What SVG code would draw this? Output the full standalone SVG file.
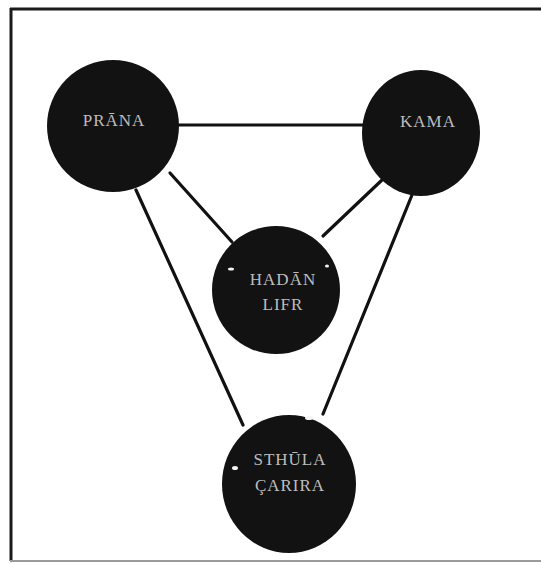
<svg xmlns="http://www.w3.org/2000/svg" width="541" height="563" viewBox="0 0 541 563">
  <style>
    .frame { stroke: #1a1a1a; stroke-width: 3; fill: none; }
    .edge { stroke: #111; stroke-width: 3.2; stroke-linecap: round; fill: none; }
    .node { fill: #121212; }
    .label { fill: #bdbdbd; font-family: "Liberation Serif", "DejaVu Serif", serif; font-size: 17px; text-anchor: middle; letter-spacing: 1px; }
    .fleck { fill: #f4f4f4; }
  </style>
  <rect width="541" height="563" fill="#ffffff"/>
  <!-- page frame -->
  <g id="frame">
    <line class="frame" x1="10" y1="9" x2="541" y2="9"/>
    <line class="frame" x1="11" y1="8" x2="11" y2="561"/>
    <line x1="10" y1="561" x2="541" y2="561" stroke="#9a9a9a" stroke-width="2"/>
  </g>
  <!-- connectors -->
  <g id="connectors">
    <line class="edge" x1="170" y1="125" x2="366" y2="125"/>
    <line class="edge" x1="170" y1="173" x2="232" y2="242"/>
    <line class="edge" x1="382" y1="180" x2="323" y2="236"/>
    <line class="edge" x1="136" y1="190" x2="243" y2="425"/>
    <line class="edge" x1="412" y1="195" x2="323" y2="414"/>
  </g>
  <g id="prana">
    <circle class="node" cx="113" cy="126" r="66"/>
    <text class="label" x="114" y="126">PRĀNA</text>
  </g>
  <g id="kama">
    <ellipse class="node" cx="421" cy="133" rx="59" ry="63"/>
    <text class="label" x="428" y="127">KAMA</text>
  </g>
  <g id="hadan-lifr">
    <circle class="node" cx="276" cy="290" r="64"/>
    <text class="label" x="283" y="285">HADĀN</text>
    <text class="label" x="283" y="310">LIFR</text>
    <ellipse class="fleck" cx="231" cy="269" rx="3" ry="1.5"/>
    <ellipse class="fleck" cx="327" cy="266" rx="2" ry="1.5"/>
  </g>
  <g id="sthula-carira">
    <ellipse class="node" cx="289" cy="484" rx="67" ry="69"/>
    <text class="label" x="290" y="465">STHŪLA</text>
    <text class="label" x="290" y="491">ÇARIRA</text>
    <ellipse class="fleck" cx="309" cy="418" rx="4" ry="2"/>
    <ellipse class="fleck" cx="235" cy="468" rx="3" ry="2"/>
  </g>
</svg>
